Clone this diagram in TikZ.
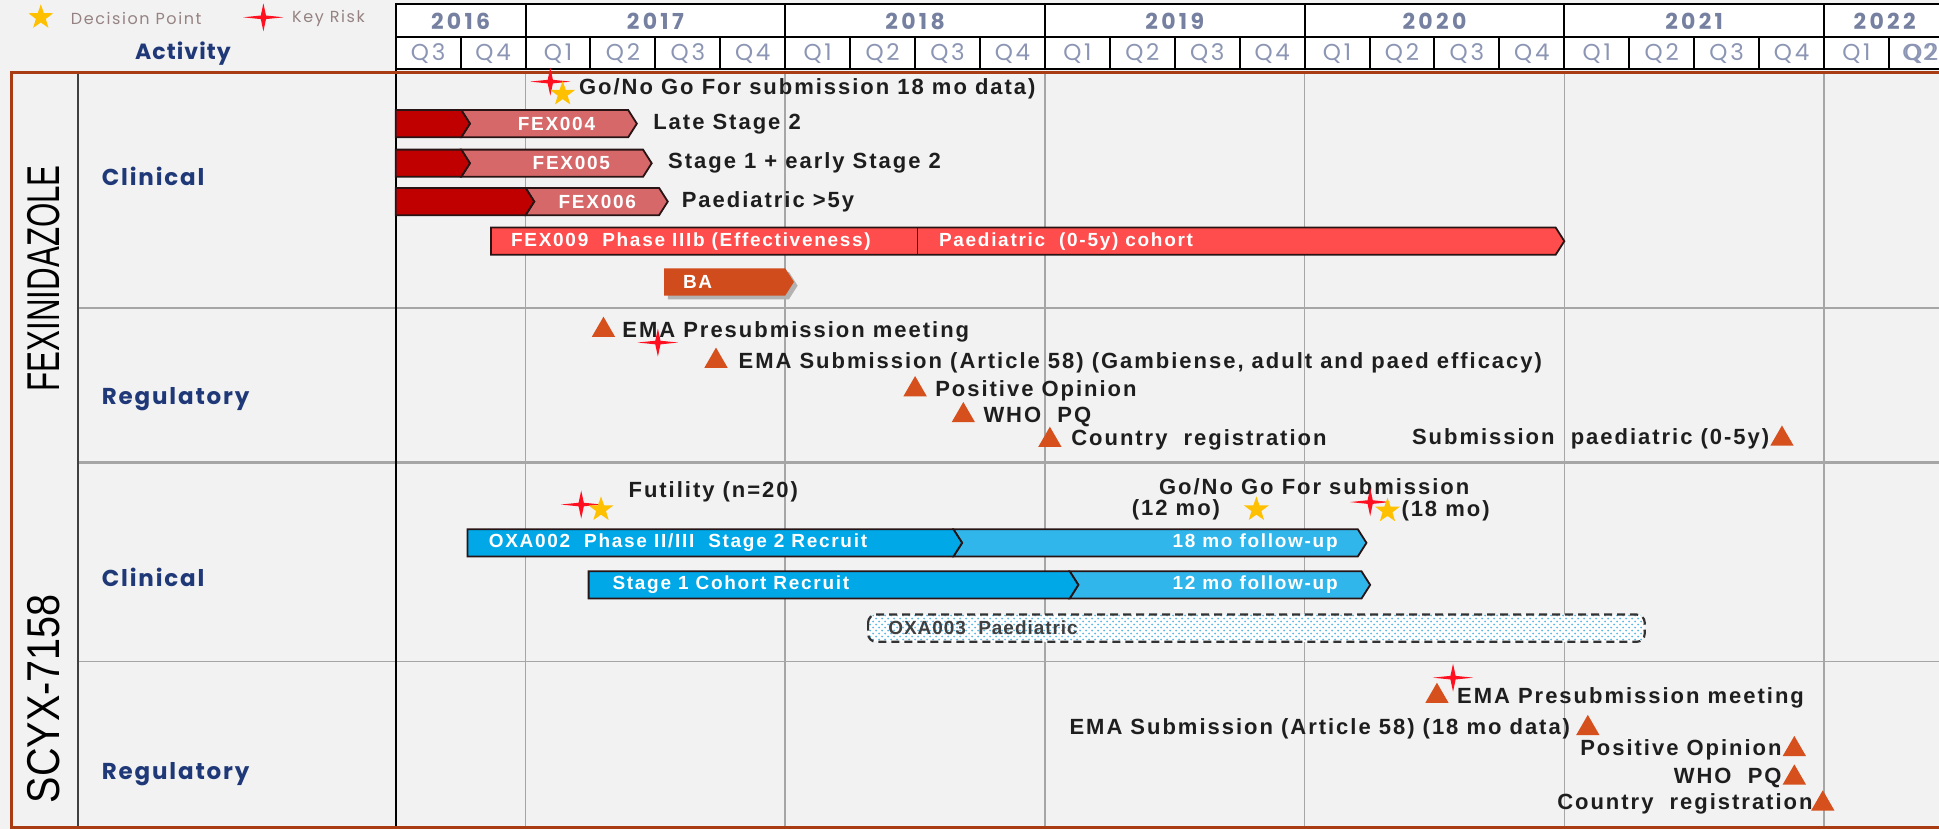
\documentclass[tikz,border=0pt]{standalone}
\usepackage{fontspec}
\setmainfont{Liberation Sans}
\newfontfamily\condfont{Liberation Sans}
\newfontfamily\lblfont[LetterSpace=9]{Liberation Sans}
\newfontfamily\wfont[LetterSpace=9]{Liberation Sans}
\newfontfamily\oxafont[LetterSpace=5]{Liberation Sans}
\newfontfamily\yrfont[LetterSpace=15]{Poppins}
\newfontfamily\qfont[LetterSpace=12]{Poppins}
\newfontfamily\catfont[LetterSpace=8]{Poppins}
\newfontfamily\actfont[LetterSpace=5]{Poppins}
\newfontfamily\legfont[LetterSpace=10]{Poppins}
\usetikzlibrary{shapes.geometric,patterns}
\definecolor{bgc}{RGB}{242,242,242}
\definecolor{dred}{RGB}{192,0,0}
\definecolor{lred}{RGB}{214,104,106}
\definecolor{fexnine}{RGB}{255,76,76}
\definecolor{bac}{RGB}{208,76,28}
\definecolor{tric}{RGB}{214,80,30}
\definecolor{blueone}{RGB}{0,168,232}
\definecolor{bluetwo}{RGB}{48,182,234}
\definecolor{goldc}{RGB}{255,192,0}
\definecolor{riskc}{RGB}{255,16,32}
\definecolor{navy}{RGB}{31,56,120}
\definecolor{hdrc}{RGB}{118,128,160}
\definecolor{qc}{RGB}{140,150,180}
\definecolor{gridc}{RGB}{166,166,166}
\definecolor{framec}{RGB}{170,60,20}
\definecolor{txtc}{RGB}{30,30,30}
\definecolor{legc}{RGB}{150,130,130}
\definecolor{barl}{RGB}{40,20,20}
\definecolor{dotc}{RGB}{90,185,230}
\newcommand\barR[4]{\filldraw[barline,fill=#4] (#1,#3-11) -- (#2-7,#3-11) -- (#2,#3) -- (#2-7,#3+11) -- (#1,#3+11) -- cycle;}
\newcommand\barN[4]{\filldraw[barline,fill=#4] (#1-7,#3-11) -- (#2-7,#3-11) -- (#2,#3) -- (#2-7,#3+11) -- (#1-7,#3+11) -- (#1,#3) -- cycle;}
\begin{document}
\begin{tikzpicture}[x=0.6183pt,y=-0.6183pt,
  barline/.style={draw=barl,line width=0.9pt,line join=miter},
  lbl/.style={font=\lblfont\bfseries\fontsize{11}{12}\selectfont,text=txtc,inner sep=0pt,anchor=west},
  lble/.style={lbl,anchor=east},
  wlbl/.style={font=\wfont\bfseries\fontsize{9.5}{11}\selectfont,text=white,inner sep=0pt},
  tri/.style={regular polygon,regular polygon sides=3,fill=tric,inner sep=0pt,minimum size=13.5pt},
  dstar/.style={star,star points=5,star point ratio=2.5,fill=goldc,inner sep=0pt,minimum size=13pt},
  risk/.style={star,star points=4,star point ratio=5.5,fill=riskc,inner sep=0pt,minimum size=14pt,xscale=1.45,transform shape},
  hdr/.style={draw=black,line width=1pt,fill=white},
  yr/.style={font=\yrfont\bfseries\fontsize{11}{12}\selectfont,text=hdrc,inner sep=0pt},
  qt/.style={font=\qfont\fontsize{11.5}{12}\selectfont,text=qc,inner sep=0pt},
  cat/.style={font=\catfont\bfseries\fontsize{11.5}{12}\selectfont,text=navy,inner sep=0pt,anchor=west},
  leg/.style={font=\legfont\fontsize{8}{9}\selectfont,text=legc,inner sep=0pt,anchor=west},
  grid/.style={draw=gridc,line width=0.8pt}]
\useasboundingbox (0,0) rectangle (1568,670);
\clip (0,0) rectangle (1568,670);
\fill[bgc] (0,0) rectangle (1568,670);
% legend
\node[dstar] (legstar) at (33,14) {};
\node[leg] (legdp) at (57,15) {Decision Point};
\node[risk] (legrisk) at (213,14) {};
\node[leg] (legkr) at (236,15) {Key Risk};
% header
\draw[hdr] (320,3) rectangle (425,30);
\node[yr] (y2016) at (372.5,17) {2016};
\foreach \y [count=\k from 0] in {2017,2018,2019,2020,2021} {
  \draw[hdr] (425+210*\k,3) rectangle +(210,27);
  \node[yr] (y\y) at (530+210*\k,17) {\y};
}
\draw[hdr] (1475,3) rectangle (1580,30);
\node[yr] (y2022) at (1524,17) {2022};
\foreach \i in {0,...,23} {
  \pgfmathtruncatemacro\q{mod(\i+2,4)+1}
  \draw[hdr] (320+52.5*\i,30) rectangle +(52.5,26);
  \node[qt] (q\i) at (346.25+52.5*\i,43.5) {Q\q};
}
\draw[hdr] (1580,30) rectangle +(52.5,26);
\node[qt,anchor=west] (q24) at (1538,43.5) {Q2};
\node[font=\actfont\bfseries\fontsize{11}{12}\selectfont,text=navy,inner sep=0pt] (activity) at (148,43.5) {Activity};
% grid
\foreach \xx in {425,635,845,1055,1265,1475} \draw[grid] (\xx,58) -- (\xx,670);
\draw[grid] (63,249) -- (1568,249);
\draw[grid,line width=1.3pt] (63,374) -- (1568,374);
\draw[grid] (63,535) -- (1568,535);
\draw[draw=black!75,line width=1pt] (63,58) -- (63,670);
\draw[draw=black,line width=1pt] (320,56) -- (320,670);
\draw[draw=framec,line width=1.6pt] (9,670) -- (9,58.5) -- (1568,58.5);
\draw[draw=framec,line width=1.6pt] (9,669) -- (1568,669);
% side labels
\node[rotate=90,inner sep=0pt] (fexname) at (35,225) {\scalebox{0.68}[1]{\condfont\fontsize{23}{23}\selectfont FEXINIDAZOLE}};
\node[rotate=90,inner sep=0pt] (scyxname) at (35,565) {\scalebox{0.86}[1]{\condfont\fontsize{23}{23}\selectfont SCYX-7158}};
\node[cat] (cl1) at (82,143) {Clinical};
\node[cat] (rg1) at (82,323) {Regulatory};
\node[cat] (cl2) at (82,467) {Clinical};
\node[cat] (rg2) at (82,626) {Regulatory};
% FEX clinical
\node[risk] (r1) at (445,66) {};
\node[dstar] (s1) at (455,76) {};
\node[lbl] (gonogo1) at (468,72) {Go/No Go For submission 18 mo data)};
\barN{380}{515}{100}{lred}\barR{320}{380}{100}{dred}
\node[wlbl] (fex4) at (450,100) {FEX004};
\node[lbl] (fex4t) at (528,100) {Late Stage 2};
\barN{380}{527}{132}{lred}\barR{320}{380}{132}{dred}
\node[wlbl] (fex5) at (462,132) {FEX005};
\node[lbl] (fex5t) at (540,132) {Stage 1 + early Stage 2};
\barN{432}{540}{163}{lred}\barR{320}{432}{163}{dred}
\node[wlbl] (fex6) at (483,163) {FEX006};
\node[lbl] (fex6t) at (551,163) {Paediatric >5y};
\barR{397}{1265}{195}{fexnine}
\draw[barline] (742,184) -- (742,206);
\node[wlbl,anchor=west] (fex9) at (413,195) {FEX009\ \ Phase IIIb (Effectiveness)};
\node[wlbl,anchor=west] (fex9p) at (759,195) {Paediatric\ \ (0-5y) cohort};
\fill[black!30] (540,220) -- (638,220) -- (645,231) -- (638,242) -- (540,242) -- cycle;
\fill[bac] (537,217) -- (635,217) -- (642,228) -- (635,239) -- (537,239) -- cycle;
\node[wlbl,anchor=west] (ba) at (552,228) {BA};
% FEX regulatory
\node[tri] (t1) at (488,267) {};
\node[lbl] (t1t) at (503,268) {EMA Presubmission meeting};
\node[risk] (r2) at (532,277) {};
\node[tri] (t2) at (579,292) {};
\node[lbl] (t2t) at (597,293) {EMA Submission (Article 58) (Gambiense, adult and paed efficacy)};
\node[tri] (t3) at (740,315) {};
\node[lbl] (t3t) at (756,316) {Positive Opinion};
\node[tri] (t4) at (779,336) {};
\node[lbl] (t4t) at (795,337) {WHO\ \ PQ};
\node[tri] (t5) at (849,356) {};
\node[lbl] (t5t) at (866,356) {Country\ \ registration};
\node[tri] (t6) at (1441,355) {};
\node[lble] (t6t) at (1431,355) {Submission\ \ paediatric (0-5y)};
% SCYX clinical
\node[risk] (r3) at (470,408) {};
\node[dstar] (s3) at (486,412) {};
\node[lbl] (fut) at (508,398) {Futility (n=20)};
\node[lbl] (gonogo2) at (937,394) {Go/No Go For submission};
\node[lbl] (m12) at (915,412) {(12 mo)};
\node[dstar] (s4) at (1016,412) {};
\node[risk] (r4) at (1108,406) {};
\node[dstar] (s5) at (1122,413) {};
\node[lbl] (m18) at (1133,413) {(18 mo)};
\barN{778}{1105}{439}{bluetwo}\barR{378}{778}{439}{blueone}
\node[wlbl,anchor=west] (oxa2) at (395,439) {OXA002\ \ Phase II/III\ \ Stage 2 Recruit};
\node[wlbl,anchor=east] (fu18) at (1082,439) {18 mo follow-up};
\barN{872}{1108}{473}{bluetwo}\barR{476}{872}{473}{blueone}
\node[wlbl,anchor=west] (st1) at (495,473) {Stage 1 Cohort Recruit};
\node[wlbl,anchor=east] (fu12) at (1082,473) {12 mo follow-up};
\fill[white,rounded corners=4pt] (702,497) rectangle (1330,519);
\fill[pattern=crosshatch dots,pattern color=dotc,rounded corners=4pt] (702,497) rectangle (1330,519);
\draw[line width=1.1pt,draw=black!80,rounded corners=4pt,dash pattern=on 4pt off 2.5pt] (702,497) rectangle (1330,519);
\node[font=\oxafont\bfseries\fontsize{9.5}{10}\selectfont,text=black!75,inner sep=0pt,anchor=west] (oxa3) at (718,508) {OXA003\ \ Paediatric};
% SCYX regulatory
\node[risk] (r5) at (1175,548) {};
\node[tri] (u1) at (1162,563) {};
\node[lbl] (u1t) at (1178,564) {EMA Presubmission meeting};
\node[tri] (u2) at (1284,589) {};
\node[lble] (u2t) at (1270,589) {EMA Submission (Article 58) (18 mo data)};
\node[tri] (u3) at (1451,606) {};
\node[lble] (u3t) at (1441,606) {Positive Opinion};
\node[tri] (u4) at (1451,629) {};
\node[lble] (u4t) at (1441,629) {WHO\ \ PQ};
\node[tri] (u5) at (1474,650) {};
\node[lble] (u5t) at (1466,650) {Country\ \ registration};
\end{tikzpicture}
\end{document}
